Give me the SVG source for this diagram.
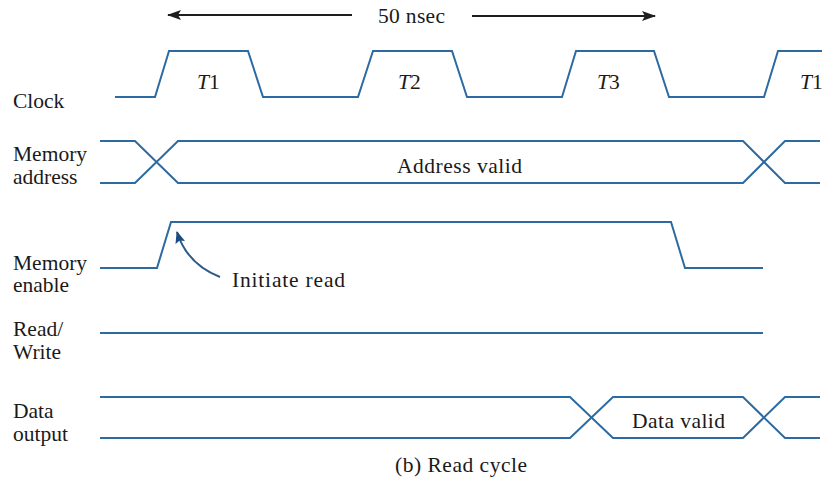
<svg xmlns="http://www.w3.org/2000/svg" width="835" height="480" viewBox="0 0 835 480">
<style>
text{font-family:"Liberation Serif","Times New Roman",serif;font-size:21.5px;fill:#1a1a1a}
.sig{fill:none;stroke:#2d6aa2;stroke-width:2;stroke-linejoin:miter}
.dim{fill:none;stroke:#1e1e1e;stroke-width:1.8}
.ann{fill:none;stroke:#2b5a86;stroke-width:2}
.it{font-style:italic}
</style>
<defs>
<marker id="ah" markerWidth="14" markerHeight="10" refX="13" refY="5" orient="auto" markerUnits="userSpaceOnUse">
<path d="M0,0 L14,5 L0,10 L3,5 Z" fill="#1e1e1e"/>
</marker>
<marker id="ahb" markerWidth="12" markerHeight="10" refX="11" refY="5" orient="auto" markerUnits="userSpaceOnUse">
<path d="M0,0 L12,5 L0,10 L2,5 Z" fill="#1d4a80"/>
</marker>
</defs>
<rect width="835" height="480" fill="#ffffff"/>

<g id="clock">
<text x="13" y="108">Clock</text>
<path class="sig" d="M115,97 H155 L169,51 H248 L263,97 H358 L373,51 H452 L467,97 H562 L576,51 H654 L669,97 H764 L778,51 H822"/>
<text x="197" y="89"><tspan class="it">T</tspan>1</text>
<text x="398" y="89"><tspan class="it">T</tspan>2</text>
<text x="597" y="89"><tspan class="it">T</tspan>3</text>
<text x="800" y="89"><tspan class="it">T</tspan>1</text>
</g>

<g id="memory-address">
<text x="13" y="161">Memory</text>
<text x="13" y="184">address</text>
<path class="sig" d="M100,141 H135 L178,183 H743 L785,141 H820"/>
<path class="sig" d="M100,183 H135 L178,141 H743 L785,183 H820"/>
<text x="397" y="173" textLength="125" lengthAdjust="spacing">Address valid</text>
</g>

<g id="memory-enable">
<text x="13" y="270">Memory</text>
<text x="13" y="292">enable</text>
<path class="sig" d="M100,268 H157 L171,222 H671 L685,268 H763"/>
<text x="232" y="287" textLength="113" lengthAdjust="spacing">Initiate read</text>
</g>

<g id="read-write">
<text x="13" y="336">Read/</text>
<text x="13" y="359">Write</text>
<path class="sig" d="M100,333 H763"/>
</g>

<g id="data-output">
<text x="13" y="418">Data</text>
<text x="13" y="441">output</text>
<path class="sig" d="M100,397 H570 L613,438 H743 L785,397 H820"/>
<path class="sig" d="M100,438 H570 L613,397 H743 L785,438 H820"/>
<text x="632" y="428" textLength="93" lengthAdjust="spacing">Data valid</text>
</g>

<g id="connectors">
<line class="dim" x1="352" y1="15" x2="168" y2="15" marker-end="url(#ah)"/>
<line class="dim" x1="472" y1="16" x2="655" y2="16" marker-end="url(#ah)"/>
<path class="ann" d="M220,277 Q187,264 177,232" marker-end="url(#ahb)"/>
</g>

<text x="378" y="23" textLength="67" lengthAdjust="spacing">50 nsec</text>
<text x="395" y="472" textLength="132" lengthAdjust="spacing">(b) Read cycle</text>
</svg>
